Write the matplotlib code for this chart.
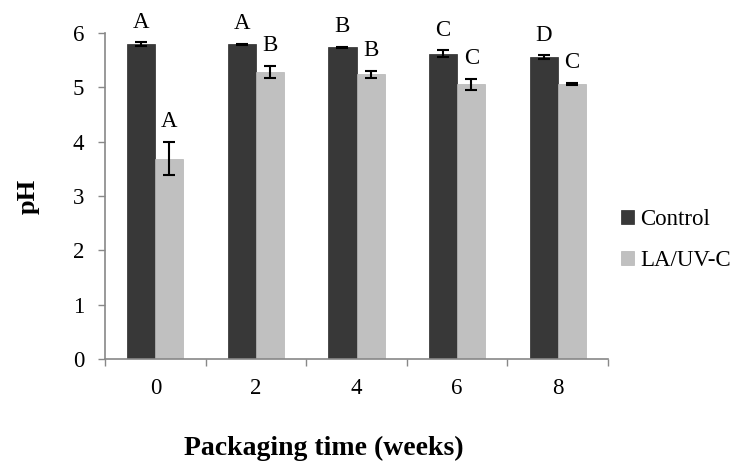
import numpy as np
import matplotlib.pyplot as plt

# pH over packaging time
weeks = ['0', '2', '4', '6', '8']
control = [5.80, 5.79, 5.74, 5.62, 5.56]
control_err = [0.03, 0.01, 0.01, 0.06, 0.03]
treated = [3.69, 5.29, 5.24, 5.06, 5.06]
treated_err = [0.31, 0.11, 0.06, 0.10, 0.02]
control_letters = ['A', 'A', 'B', 'C', 'D']
treated_letters = ['A', 'B', 'B', 'C', 'C']

plt.rcParams['font.family'] = ['Liberation Serif', 'DejaVu Serif']

fig = plt.figure(figsize=(7.37, 4.66), dpi=100)
ax = fig.add_axes([0.1425, 0.2296, 0.6825, 0.6994])

x = np.arange(len(weeks))
w = 0.28
err_kw = dict(ecolor='black', elinewidth=1.5, capsize=4, capthick=1.5)
ax.bar(x - w / 2, control, w, yerr=control_err, color='#383838',
       edgecolor='#2a2a2a', linewidth=0.5, label='Control', error_kw=err_kw)
ax.bar(x + w / 2, treated, w, yerr=treated_err, color='#c0c0c0',
       edgecolor='#b5b5b5', linewidth=0.5, label='LA/UV-C', error_kw=err_kw)

# significance letters above the error bars
for i in range(len(weeks)):
    ax.annotate(control_letters[i], (x[i] - w / 2, control[i] + control_err[i]),
                xytext=(0, 7), textcoords='offset points', ha='center',
                va='bottom', fontsize=16.5)
    ax.annotate(treated_letters[i], (x[i] + w / 2, treated[i] + treated_err[i]),
                xytext=(0, 7), textcoords='offset points', ha='center',
                va='bottom', fontsize=16.5)

ax.set_xlim(-0.5, len(weeks) - 0.5)
ax.set_ylim(0, 6)
ax.set_yticks(range(0, 7))
ax.tick_params(axis='y', labelsize=16.5, length=5, color='#888888', width=1, pad=10)

# ticks between categories, labels at the centers
ax.set_xticks(np.arange(-0.5, len(weeks), 1))
ax.set_xticklabels([])
ax.set_xticks(x, minor=True)
ax.set_xticklabels(weeks, minor=True)
ax.tick_params(axis='x', which='major', length=5, color='#888888', width=1)
ax.tick_params(axis='x', which='minor', length=0, labelsize=16.5, pad=14)

for s in ['top', 'right']:
    ax.spines[s].set_visible(False)
for s in ['left', 'bottom']:
    ax.spines[s].set_color('#888888')
    ax.spines[s].set_linewidth(1.2)

ax.set_ylabel('pH', fontsize=19, fontweight='bold')
ax.yaxis.set_label_coords(-0.129, 0.5)
ax.set_xlabel('Packaging time (weeks)', fontsize=20, fontweight='bold')
ax.xaxis.set_label_coords(0.435, -0.235)

ax.legend(loc='center left', bbox_to_anchor=(0.985, 0.365), frameon=False,
          fontsize=16.5, handlelength=0.55, handleheight=0.55, handletextpad=0.3,
          labelspacing=0.9)

fig.savefig('out.png', dpi=100)
